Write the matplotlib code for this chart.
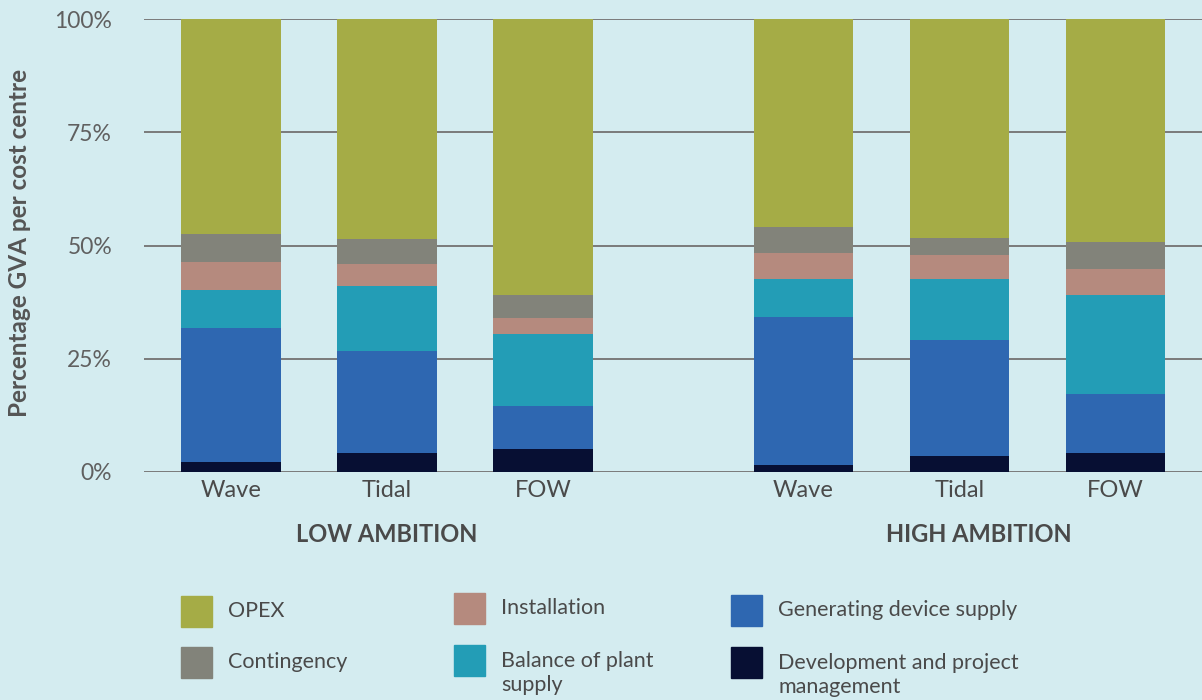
import matplotlib
matplotlib.use("Agg")
import matplotlib.pyplot as plt
from matplotlib.patches import Rectangle
import numpy as np

plt.rcParams['font.family'] = ['Lato', 'DejaVu Sans']

# data (percent of GVA per cost centre)
groups = ['LOW AMBITION', 'HIGH AMBITION']
techs = ['Wave', 'Tidal', 'FOW']
series = ['Development and project management', 'Generating device supply',
          'Balance of plant supply', 'Installation', 'Contingency', 'OPEX']
dev = [2.2, 4.2, 5.1, 1.5, 3.5, 4.2]
gen = [29.6, 22.5, 9.5, 32.7, 25.6, 13.0]
bop = [8.4, 14.4, 15.9, 8.4, 13.5, 21.9]
inst = [6.2, 4.8, 3.5, 5.7, 5.3, 5.7]
cont = [6.1, 5.5, 5.1, 5.8, 3.8, 6.0]
opex = [47.5, 48.6, 60.9, 45.9, 48.3, 49.2]
colors = ['#070f33', '#2e67b1', '#239db6', '#b58a7e', '#82837a', '#a5ac46']
bg = '#d4ecf0'

fig = plt.figure(figsize=(12.02, 7.0), dpi=100, facecolor=bg)
ax = fig.add_axes([144/1202, 1-472/700, 1-144/1202, 453/700])
ax.set_facecolor(bg)

pos = np.array([0, 1, 2, 3.67, 4.67, 5.67])
bottom = np.zeros(6)
for vals, c in zip([dev, gen, bop, inst, cont, opex], colors):
    ax.bar(pos, vals, 0.64, bottom=bottom, color=c, zorder=3)
    bottom += np.array(vals)

ax.set_ylim(0, 100)
ax.set_xlim(-0.558, 6.224)
ax.set_yticks([0, 25, 50, 75, 100])
ax.set_yticklabels(['0%', '25%', '50%', '75%', '100%'], fontsize=16.5, color='#606060')
for y in [0, 25, 50, 75, 100]:
    ax.axhline(y, color='#7a7a7a', lw=1.4, zorder=1)
ax.set_xticks(pos)
ax.set_xticklabels(techs * 2, fontsize=17, color='#4a4a4a')
ax.tick_params(length=0, pad=6)
ax.tick_params(axis='y', pad=23)
for s in ax.spines.values():
    s.set_visible(False)

fig.text(20/1202, 1-243/700, 'Percentage GVA per cost centre', rotation=90,
         ha='center', va='center', fontsize=17.5, fontweight='bold', color='#555555')
fig.text(387/1202, 1-534/700, groups[0], ha='center', va='center',
         fontsize=17, fontweight='bold', color='#4a4a4a')
fig.text(979/1202, 1-534/700, groups[1], ha='center', va='center',
         fontsize=17, fontweight='bold', color='#4a4a4a')

# legend
leg = [('OPEX', colors[5], 181, 611, 228),
       ('Contingency', colors[4], 181, 662, 228),
       ('Installation', colors[3], 454, 608, 501),
       ('Balance of plant\nsupply', colors[2], 454, 660, 501),
       ('Generating device supply', colors[1], 731, 610, 778),
       ('Development and project\nmanagement', colors[0], 731, 662, 778)]
for lab, c, sx, sy, tx in leg:
    fig.patches.append(Rectangle((sx/1202, 1-(sy+16)/700), 31/1202, 31/700,
                                 transform=fig.transFigure, color=c))
    ty = sy if '\n' not in lab else sy + 13
    fig.text(tx/1202, 1-ty/700, lab, ha='left', va='center', fontsize=15.5,
             color='#4a4a4a', linespacing=1.2)

plt.savefig('out.png', dpi=100, facecolor=bg)
